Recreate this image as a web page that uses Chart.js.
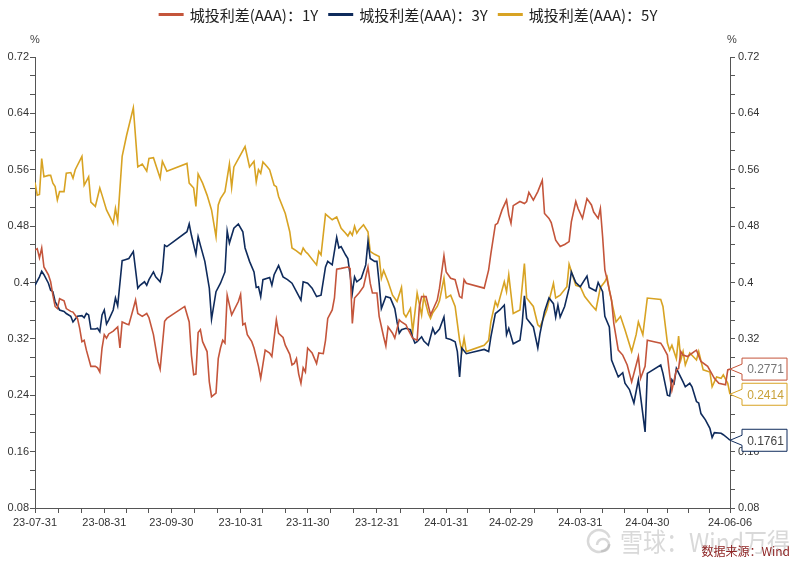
<!DOCTYPE html>
<html>
<head>
<meta charset="utf-8">
<script src="https://cdn.jsdelivr.net/npm/chart.js@4.4.0/dist/chart.umd.min.js"></script>
<style>
  html, body { margin: 0; padding: 0; background: #fff; }
  #wrap { position: relative; width: 800px; height: 563px; }
</style>
</head>
<body>
<div id="wrap"><canvas id="spreadChart" width="800" height="563"></canvas></div>
<script>
// x values are calendar days counted from 2023-07-31
const xTickDays = [0, 31, 61, 92, 122, 153, 184, 213, 244, 274, 311];
const xTickLabels = ['23-07-31', '23-08-31', '23-09-30', '23-10-31', '23-11-30', '23-12-31',
                     '24-01-31', '24-02-29', '24-03-31', '24-04-30', '24-06-06'];
const yTickValues = [0.08, 0.16, 0.24, 0.32, 0.40, 0.48, 0.56, 0.64, 0.72];
const yTickLabels = ['0.08', '0.16', '0.24', '0.32', '0.4', '0.48', '0.56', '0.64', '0.72'];

const seriesNames = ['城投利差(AAA)：1Y', '城投利差(AAA)：3Y', '城投利差(AAA)：5Y'];

const days1Y = [
  0, 1, 2, 3, 4, 6, 7, 8, 9, 10,
  11, 13, 14, 16, 17, 19, 20, 21, 22, 23,
  25, 27, 28, 29, 30, 31, 32, 33, 35, 37,
  38, 39, 41, 42, 44, 45, 46, 48, 50, 51,
  53, 55, 56, 58, 59, 67, 69, 70, 71, 72,
  73, 74, 75, 77, 78, 79, 81, 82, 83, 84,
  85, 86, 88, 91, 92, 93, 94, 95, 97, 98,
  100, 101, 103, 105, 106, 108, 109, 111, 112, 114,
  115, 116, 117, 118, 119, 120, 121, 122, 124, 126,
  127, 129, 130, 131, 133, 134, 135, 137, 140, 141,
  142, 143, 145, 147, 149, 150, 151, 153, 154, 156,
  157, 158, 160, 161, 163, 164, 166, 167, 169, 171,
  172, 173, 175, 177, 178, 180, 181, 183, 184, 186,
  188, 190, 191, 192, 193, 201, 203, 204, 206, 207,
  209, 211, 212, 213, 214, 217, 219, 220, 221, 223,
  225, 227, 228, 230, 231, 233, 235, 237, 239, 240,
  242, 243, 245, 247, 249, 250, 252, 253, 254, 255,
  256, 258, 259, 261, 263, 265, 267, 270, 271, 273,
  274, 277, 280, 281, 283, 284, 285, 287, 288, 289,
  290, 292, 295, 296, 298, 301, 304, 306, 309, 310,
  311
];
const vals1Y = [
  0.446, 0.448, 0.435, 0.449, 0.422, 0.411, 0.401, 0.382, 0.366, 0.363,
  0.377, 0.374, 0.363, 0.359, 0.358, 0.349, 0.335, 0.316, 0.318, 0.304,
  0.281, 0.281, 0.279, 0.273, 0.307, 0.326, 0.321, 0.327, 0.331, 0.337,
  0.307, 0.344, 0.341, 0.340, 0.363, 0.375, 0.356, 0.352, 0.356, 0.350,
  0.326, 0.288, 0.277, 0.345, 0.349, 0.366, 0.344, 0.297, 0.269, 0.270,
  0.329, 0.333, 0.316, 0.302, 0.259, 0.238, 0.243, 0.292, 0.307, 0.318,
  0.314, 0.382, 0.354, 0.373, 0.383, 0.340, 0.342, 0.326, 0.316, 0.307,
  0.281, 0.264, 0.304, 0.300, 0.295, 0.347, 0.328, 0.322, 0.311, 0.298,
  0.283, 0.285, 0.292, 0.270, 0.257, 0.279, 0.273, 0.307, 0.300, 0.285,
  0.300, 0.299, 0.318, 0.349, 0.361, 0.378, 0.419, 0.420, 0.422, 0.420,
  0.342, 0.378, 0.385, 0.394, 0.422, 0.399, 0.385, 0.385, 0.352, 0.323,
  0.310, 0.337, 0.328, 0.321, 0.347, 0.344, 0.340, 0.333, 0.321, 0.318,
  0.366, 0.380, 0.380, 0.354, 0.361, 0.375, 0.392, 0.438, 0.415, 0.406,
  0.404, 0.380, 0.378, 0.404, 0.399, 0.392, 0.418, 0.441, 0.482, 0.484,
  0.503, 0.517, 0.496, 0.484, 0.509, 0.515, 0.512, 0.515, 0.528, 0.517,
  0.529, 0.545, 0.498, 0.491, 0.485, 0.460, 0.451, 0.454, 0.458, 0.486,
  0.515, 0.505, 0.491, 0.519, 0.510, 0.500, 0.491, 0.505, 0.465, 0.418,
  0.404, 0.375, 0.342, 0.304, 0.297, 0.283, 0.259, 0.295, 0.264, 0.281,
  0.318, 0.316, 0.314, 0.309, 0.297, 0.269, 0.247, 0.276, 0.278, 0.302,
  0.297, 0.295, 0.302, 0.304, 0.288, 0.281, 0.264, 0.257, 0.255, 0.276,
  0.2771
];

const days3Y = [
  0, 2, 3, 4, 6, 7, 8, 9, 11, 13,
  14, 16, 17, 19, 21, 22, 23, 24, 25, 27,
  28, 29, 30, 31, 32, 33, 35, 36, 37, 39,
  40, 42, 44, 46, 47, 49, 50, 51, 53, 54,
  56, 57, 58, 59, 68, 69, 70, 72, 73, 74,
  76, 78, 79, 81, 83, 85, 86, 87, 89, 91,
  93, 94, 96, 98, 99, 100, 101, 102, 105, 106,
  107, 109, 111, 113, 115, 117, 119, 120, 122, 124,
  126, 128, 130, 131, 133, 135, 136, 137, 139, 140,
  141, 142, 143, 144, 146, 148, 149, 150, 152, 153,
  154, 155, 157, 159, 161, 162, 163, 164, 166, 168,
  169, 170, 171, 173, 174, 176, 178, 179, 181, 183,
  184, 186, 188, 189, 190, 191, 193, 201, 203, 204,
  206, 208, 210, 211, 212, 214, 217, 218, 219, 220,
  223, 225, 226, 228, 230, 232, 233, 234, 235, 237,
  239, 240, 242, 244, 247, 248, 251, 252, 254, 255,
  257, 258, 261, 263, 264, 266, 268, 270, 271, 273,
  274, 280, 281, 283, 284, 285, 286, 287, 290, 291,
  293, 294, 296, 297, 298, 300, 302, 303, 304, 307,
  308, 310, 311
];
const vals3Y = [
  0.396, 0.408, 0.416, 0.411, 0.399, 0.389, 0.387, 0.373, 0.361, 0.359,
  0.356, 0.352, 0.344, 0.352, 0.353, 0.350, 0.356, 0.354, 0.334, 0.334,
  0.335, 0.330, 0.354, 0.361, 0.341, 0.347, 0.361, 0.378, 0.367, 0.431,
  0.432, 0.434, 0.444, 0.392, 0.396, 0.401, 0.396, 0.404, 0.415, 0.408,
  0.401, 0.415, 0.453, 0.451, 0.472, 0.483, 0.467, 0.440, 0.465, 0.453,
  0.430, 0.392, 0.348, 0.387, 0.399, 0.415, 0.473, 0.456, 0.477, 0.483,
  0.472, 0.449, 0.430, 0.415, 0.393, 0.394, 0.380, 0.404, 0.407, 0.396,
  0.411, 0.424, 0.408, 0.404, 0.399, 0.387, 0.375, 0.401, 0.399, 0.392,
  0.380, 0.382, 0.422, 0.430, 0.425, 0.464, 0.449, 0.451, 0.439, 0.434,
  0.411, 0.385, 0.408, 0.401, 0.406, 0.425, 0.458, 0.434, 0.430, 0.430,
  0.399, 0.363, 0.380, 0.378, 0.363, 0.344, 0.328, 0.333, 0.335, 0.333,
  0.322, 0.314, 0.316, 0.323, 0.317, 0.311, 0.335, 0.327, 0.334, 0.351,
  0.321, 0.319, 0.316, 0.302, 0.266, 0.307, 0.299, 0.305, 0.302, 0.323,
  0.356, 0.361, 0.368, 0.326, 0.335, 0.313, 0.318, 0.342, 0.381, 0.349,
  0.337, 0.307, 0.328, 0.359, 0.378, 0.370, 0.351, 0.368, 0.351, 0.366,
  0.392, 0.415, 0.400, 0.394, 0.409, 0.393, 0.388, 0.400, 0.387, 0.352,
  0.337, 0.290, 0.266, 0.272, 0.257, 0.248, 0.229, 0.262, 0.238, 0.188,
  0.271, 0.283, 0.271, 0.240, 0.239, 0.262, 0.257, 0.278, 0.259, 0.252,
  0.257, 0.252, 0.231, 0.229, 0.214, 0.205, 0.193, 0.180, 0.187, 0.186,
  0.184, 0.179, 0.1761
];

const days5Y = [
  0, 1, 2, 3, 4, 6, 7, 8, 9, 10,
  11, 13, 14, 16, 17, 18, 21, 22, 24, 25,
  27, 29, 30, 32, 35, 36, 37, 39, 41, 44,
  46, 48, 50, 51, 53, 56, 57, 59, 68, 69,
  71, 72, 73, 75, 77, 79, 81, 82, 83, 85,
  87, 88, 89, 94, 96, 98, 99, 100, 101, 102,
  104, 105, 107, 108, 109, 112, 114, 115, 117, 119,
  120, 121, 122, 126, 127, 128, 130, 133, 135, 137,
  139, 140, 141, 142, 143, 144, 145, 147, 149, 150,
  152, 154, 155, 156, 158, 160, 162, 164, 165, 166,
  168, 169, 171, 173, 174, 176, 177, 178, 180, 181,
  183, 184, 186, 188, 190, 191, 192, 193, 201, 203,
  204, 206, 207, 210, 211, 212, 214, 217, 219, 220,
  223, 225, 226, 229, 232, 233, 235, 238, 239, 242,
  244, 246, 249, 251, 253, 255, 256, 257, 260, 262,
  264, 267, 269, 270, 272, 274, 280, 281, 283, 284,
  285, 287, 288, 289, 290, 291, 293, 296, 297, 299,
  302, 303, 305, 307, 308, 310, 311
];
const vals5Y = [
  0.542, 0.524, 0.525, 0.576, 0.550, 0.552, 0.552, 0.541, 0.536, 0.517,
  0.529, 0.529, 0.555, 0.556, 0.548, 0.560, 0.579, 0.538, 0.550, 0.514,
  0.508, 0.534, 0.524, 0.503, 0.484, 0.505, 0.487, 0.579, 0.609, 0.648,
  0.564, 0.568, 0.558, 0.576, 0.577, 0.548, 0.572, 0.558, 0.569, 0.541,
  0.534, 0.508, 0.554, 0.541, 0.524, 0.503, 0.465, 0.510, 0.519, 0.529,
  0.568, 0.535, 0.564, 0.593, 0.564, 0.572, 0.543, 0.560, 0.555, 0.571,
  0.564, 0.560, 0.538, 0.536, 0.522, 0.498, 0.472, 0.449, 0.445, 0.440,
  0.449, 0.444, 0.441, 0.425, 0.444, 0.439, 0.497, 0.489, 0.493, 0.477,
  0.470, 0.466, 0.472, 0.467, 0.480, 0.470, 0.475, 0.482, 0.472, 0.444,
  0.440, 0.437, 0.406, 0.417, 0.401, 0.382, 0.373, 0.393, 0.356, 0.351,
  0.363, 0.330, 0.385, 0.354, 0.380, 0.356, 0.349, 0.357, 0.366, 0.374,
  0.406, 0.378, 0.382, 0.366, 0.318, 0.302, 0.321, 0.302, 0.311, 0.318,
  0.344, 0.373, 0.366, 0.401, 0.387, 0.411, 0.356, 0.361, 0.427, 0.378,
  0.366, 0.340, 0.337, 0.361, 0.399, 0.378, 0.382, 0.394, 0.426, 0.396,
  0.394, 0.380, 0.368, 0.361, 0.393, 0.401, 0.408, 0.389, 0.344, 0.352,
  0.333, 0.302, 0.326, 0.344, 0.326, 0.378, 0.376, 0.366, 0.314, 0.304,
  0.311, 0.292, 0.324, 0.290, 0.302, 0.283, 0.300, 0.290, 0.302, 0.276,
  0.273, 0.252, 0.266, 0.264, 0.269, 0.257, 0.2414
];

const seriesColors = ['#C4553B', '#0F2B5C', '#D8A323'];
const labelTextColors = ['#777777', '#444444', '#C9A23A'];

Chart.defaults.font.family = '"Liberation Sans", Arial, sans-serif';
Chart.defaults.font.size = 11;
Chart.defaults.color = '#333';

function toPoints(days, vals) {
  return days.map((d, i) => ({ x: d, y: vals[i] }));
}

// major ticks plus minor ticks roughly every 10 days between them
function buildXTicks() {
  const out = [];
  for (let i = 0; i < xTickDays.length; i++) {
    out.push({ value: xTickDays[i] });
    if (i < xTickDays.length - 1) {
      const a = xTickDays[i], b = xTickDays[i + 1];
      const n = Math.round((b - a) / 10);
      for (let k = 1; k < n; k++) out.push({ value: a + k * (b - a) / n });
    }
  }
  return out;
}

function buildYTicks() {
  const out = [];
  for (let i = 0; i < yTickValues.length; i++) {
    out.push({ value: yTickValues[i] });
    if (i < yTickValues.length - 1) {
      const step = (yTickValues[i + 1] - yTickValues[i]) / 3;
      out.push({ value: yTickValues[i] + step });
      out.push({ value: yTickValues[i] + 2 * step });
    }
  }
  return out;
}

function yLabel(value) {
  const idx = yTickValues.findIndex(v => Math.abs(v - value) < 1e-6);
  return idx >= 0 ? yTickLabels[idx] : '';
}

function yScale(position, width, pad) {
  return {
    type: 'linear',
    position: position,
    display: true,
    min: 0.08,
    max: 0.72,
    afterBuildTicks: (scale) => { scale.ticks = buildYTicks(); },
    afterFit: (scale) => { scale.width = width; },
    grid: { drawOnChartArea: false, drawTicks: true, tickLength: 5, color: '#555' },
    border: { display: true, color: '#555', width: 1 },
    ticks: { padding: pad, autoSkip: false, color: '#333', callback: (v) => yLabel(v) }
  };
}

// legend, unit marks, end-value callouts and the source note
const overlayPlugin = {
  id: 'overlay',
  afterDraw(chart) {
    const ctx = chart.ctx;
    const area = chart.chartArea;
    ctx.save();

    // legend
    ctx.font = '15px "Noto Sans CJK SC", sans-serif';
    ctx.textBaseline = 'middle';
    ctx.textAlign = 'left';
    const sw = 25, gapIn = 6, gapOut = 10;
    const widths = seriesNames.map(n => ctx.measureText(n).width);
    let total = 0;
    widths.forEach(w => { total += sw + gapIn + w; });
    total += gapOut * (seriesNames.length - 1);
    let lx = (chart.width - total) / 2 + 8;
    seriesNames.forEach((n, i) => {
      ctx.fillStyle = seriesColors[i];
      ctx.fillRect(lx, 13, sw, 3);
      lx += sw + gapIn;
      ctx.fillStyle = '#222';
      ctx.fillText(n, lx, 15);
      lx += widths[i] + gapOut;
    });

    // unit marks
    ctx.font = '11px "Liberation Sans", Arial, sans-serif';
    ctx.fillStyle = '#444';
    ctx.textAlign = 'center';
    ctx.fillText('%', area.left, 40);
    ctx.fillText('%', area.right + 2, 40);

    // end-value callouts
    const lastVals = [vals1Y[vals1Y.length - 1], vals3Y[vals3Y.length - 1], vals5Y[vals5Y.length - 1]];
    chart.data.datasets.forEach((ds, i) => {
      const meta = chart.getDatasetMeta(i);
      const pt = meta.data[meta.data.length - 1];
      const bx = area.right + 12, bw = 45, bh = 22;
      const by = pt.y - bh / 2;
      ctx.beginPath();
      ctx.moveTo(bx, by);
      ctx.lineTo(bx + bw, by);
      ctx.lineTo(bx + bw, by + bh);
      ctx.lineTo(bx, by + bh);
      ctx.lineTo(bx, pt.y + 5);
      ctx.lineTo(pt.x, pt.y);
      ctx.lineTo(bx, pt.y - 5);
      ctx.closePath();
      ctx.fillStyle = '#fff';
      ctx.fill();
      ctx.lineWidth = 1;
      ctx.strokeStyle = seriesColors[i];
      ctx.stroke();
      ctx.fillStyle = labelTextColors[i];
      ctx.font = '12px "Liberation Sans", Arial, sans-serif';
      ctx.textAlign = 'center';
      ctx.fillText(lastVals[i].toFixed(4), bx + bw / 2 + 1, pt.y + 1);
    });

    // watermark
    ctx.fillStyle = 'rgba(170,170,170,0.45)';
    ctx.strokeStyle = 'rgba(170,170,170,0.45)';
    ctx.lineWidth = 2.5;
    ctx.beginPath();
    ctx.arc(599, 541, 11, 0.3, Math.PI * 1.9);
    ctx.stroke();
    ctx.beginPath();
    ctx.arc(603, 545, 6, Math.PI, Math.PI * 2.6);
    ctx.stroke();
    ctx.font = '26px "Noto Sans CJK SC", sans-serif';
    ctx.textAlign = 'left';
    const wm = '雪球：Wind万得';
    const wmW = ctx.measureText(wm).width;
    ctx.save();
    ctx.translate(620, 542);
    ctx.scale(170 / wmW, 1);
    ctx.fillText(wm, 0, 0);
    ctx.restore();

    // source
    ctx.font = '12px "Noto Sans CJK SC", sans-serif';
    ctx.fillStyle = '#8E2424';
    ctx.textAlign = 'right';
    ctx.fillText('数据来源：Wind', 790, 551);

    ctx.restore();
  }
};

const chartEl = document.getElementById('spreadChart');
new Chart(chartEl, {
  type: 'line',
  data: {
    datasets: [
      { label: seriesNames[0], data: toPoints(days1Y, vals1Y), borderColor: seriesColors[0] },
      { label: seriesNames[1], data: toPoints(days3Y, vals3Y), borderColor: seriesColors[1] },
      { label: seriesNames[2], data: toPoints(days5Y, vals5Y), borderColor: seriesColors[2] }
    ]
  },
  options: {
    responsive: false,
    animation: false,
    layout: { padding: { top: 57, left: 0, right: 0, bottom: 0 } },
    elements: {
      line: { borderWidth: 1.6, tension: 0, fill: false },
      point: { radius: 0, hoverRadius: 0 }
    },
    scales: {
      x: {
        type: 'linear',
        min: 0,
        max: 311,
        afterBuildTicks: (scale) => { scale.ticks = buildXTicks(); },
        afterFit: (scale) => { scale.height = 55; },
        grid: { drawOnChartArea: false, drawTicks: true, tickLength: 5, color: '#555' },
        border: { display: true, color: '#555', width: 1 },
        ticks: {
          padding: 3,
          autoSkip: false,
          maxRotation: 0,
          minRotation: 0,
          color: '#333',
          callback: (v) => {
            const idx = xTickDays.indexOf(v);
            return idx >= 0 ? xTickLabels[idx] : '';
          }
        }
      },
      y: yScale('left', 35, 1),
      y2: yScale('right', 70, 3)
    },
    plugins: {
      legend: { display: false },
      tooltip: { enabled: false }
    }
  },
  plugins: [overlayPlugin]
});
</script>
</body>
</html>
